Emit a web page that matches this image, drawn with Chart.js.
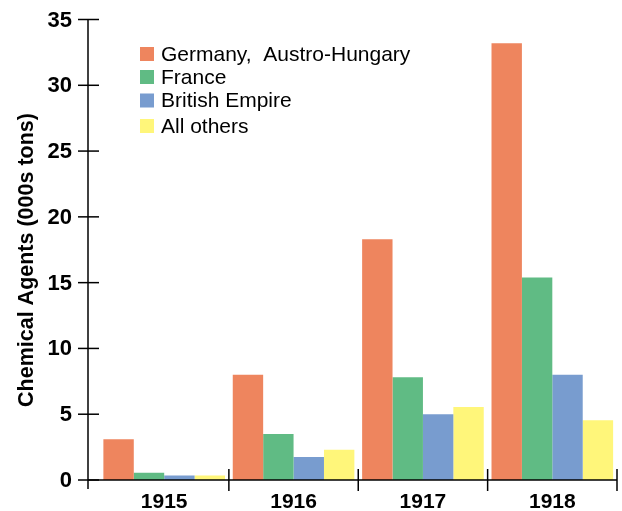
<!DOCTYPE html>
<html>
<head>
<meta charset="utf-8">
<script src="https://cdn.jsdelivr.net/npm/chart.js@4/dist/chart.umd.min.js"></script>
<style>
  html, body { margin: 0; padding: 0; background: #fff; }
  #wrap { width: 622px; height: 511px; position: relative; }
</style>
</head>
<body>
<div id="wrap"><canvas id="myChart" width="622" height="511"></canvas></div>
<script>
// data
var years = ['1915', '1916', '1917', '1918'];
var germany = [3.1, 8.0, 18.3, 33.2];
var france = [0.55, 3.5, 7.8, 15.4];
var british = [0.35, 1.75, 5.0, 8.0];
var others = [0.35, 2.3, 5.55, 4.55];
var yTicks = [0, 5, 10, 15, 20, 25, 30, 35];
var seriesNames = ['Germany,  Austro-Hungary', 'France', 'British Empire', 'All others'];
var seriesColors = ['#ee855e', '#60bb84', '#789ccf', '#fff67a'];

var font = '"Liberation Sans", Arial, sans-serif';

//draws the axes, ticks, labels and legend like the original
var axesPlugin = {
  id: 'axesPlugin',
  afterDraw: function(chart) {
    var c = chart.ctx;
    var x = chart.scales.x;
    var y = chart.scales.y;
    var area = chart.chartArea;
    var axisX = 88; //y axis sits a bit left of the first category
    var zeroY = y.getPixelForValue(0);

    c.save();
    c.strokeStyle = '#000';
    c.lineWidth = 1.5;

    //y axis line
    c.beginPath();
    c.moveTo(axisX, y.getPixelForValue(35));
    c.lineTo(axisX, zeroY + 9);
    c.stroke();

    //x axis line
    c.beginPath();
    c.moveTo(axisX, zeroY);
    c.lineTo(area.right, zeroY);
    c.stroke();

    //y ticks cross the axis
    c.fillStyle = '#000';
    c.font = 'bold 22px ' + font;
    c.textAlign = 'right';
    c.textBaseline = 'middle';
    yTicks.forEach(function(v) {
      var py = y.getPixelForValue(v);
      c.beginPath();
      c.moveTo(axisX - 10, py);
      c.lineTo(axisX + 11, py);
      c.stroke();
      c.fillText(String(v), 72, py + 1);
    });

    //x ticks at category edges
    var half = (x.getPixelForValue(1) - x.getPixelForValue(0)) / 2;
    c.font = 'bold 21px ' + font;
    years.forEach(function(yr, i) {
      var edge = x.getPixelForValue(i) + half;
      c.beginPath();
      c.moveTo(edge, zeroY - 11);
      c.lineTo(edge, zeroY + 11);
      c.stroke();
      c.textAlign = 'center';
      c.fillText(yr, x.getPixelForValue(i), zeroY + 22);
    });

    //y axis title
    c.save();
    c.translate(27, 260);
    c.rotate(-Math.PI / 2);
    c.font = 'bold 21.5px ' + font;
    c.textAlign = 'center';
    c.fillText('Chemical Agents (000s tons)', 0, 0);
    c.restore();

    //legend inside the plot
    var rows = [54, 77, 100.5, 126];
    c.font = '21px ' + font;
    c.textAlign = 'left';
    chart.data.datasets.forEach(function(ds, i) {
      c.fillStyle = ds.backgroundColor;
      c.fillRect(140, rows[i] - 7, 14, 14);
      c.fillStyle = '#000';
      c.fillText(ds.label, 161, rows[i] + 1);
    });
    c.restore();
  }
};

var ctx = document.getElementById('myChart').getContext('2d');
var myChart = new Chart(ctx, {
  type: 'bar',
  data: {
    labels: years,
    datasets: [
      { label: seriesNames[0], data: germany, backgroundColor: seriesColors[0] },
      { label: seriesNames[1], data: france, backgroundColor: seriesColors[1] },
      { label: seriesNames[2], data: british, backgroundColor: seriesColors[2] },
      { label: seriesNames[3], data: others, backgroundColor: seriesColors[3] }
    ]
  },
  options: {
    responsive: false,
    animation: false,
    layout: { padding: { left: 99.5, right: 5, top: 19.5, bottom: 31 } },
    datasets: {
      bar: { barPercentage: 1.0, categoryPercentage: 0.94 }
    },
    scales: {
      x: { display: false },
      y: { display: false, min: 0, max: 35 }
    },
    plugins: {
      legend: { display: false },
      tooltip: { enabled: false }
    }
  },
  plugins: [axesPlugin]
});
</script>
</body>
</html>
